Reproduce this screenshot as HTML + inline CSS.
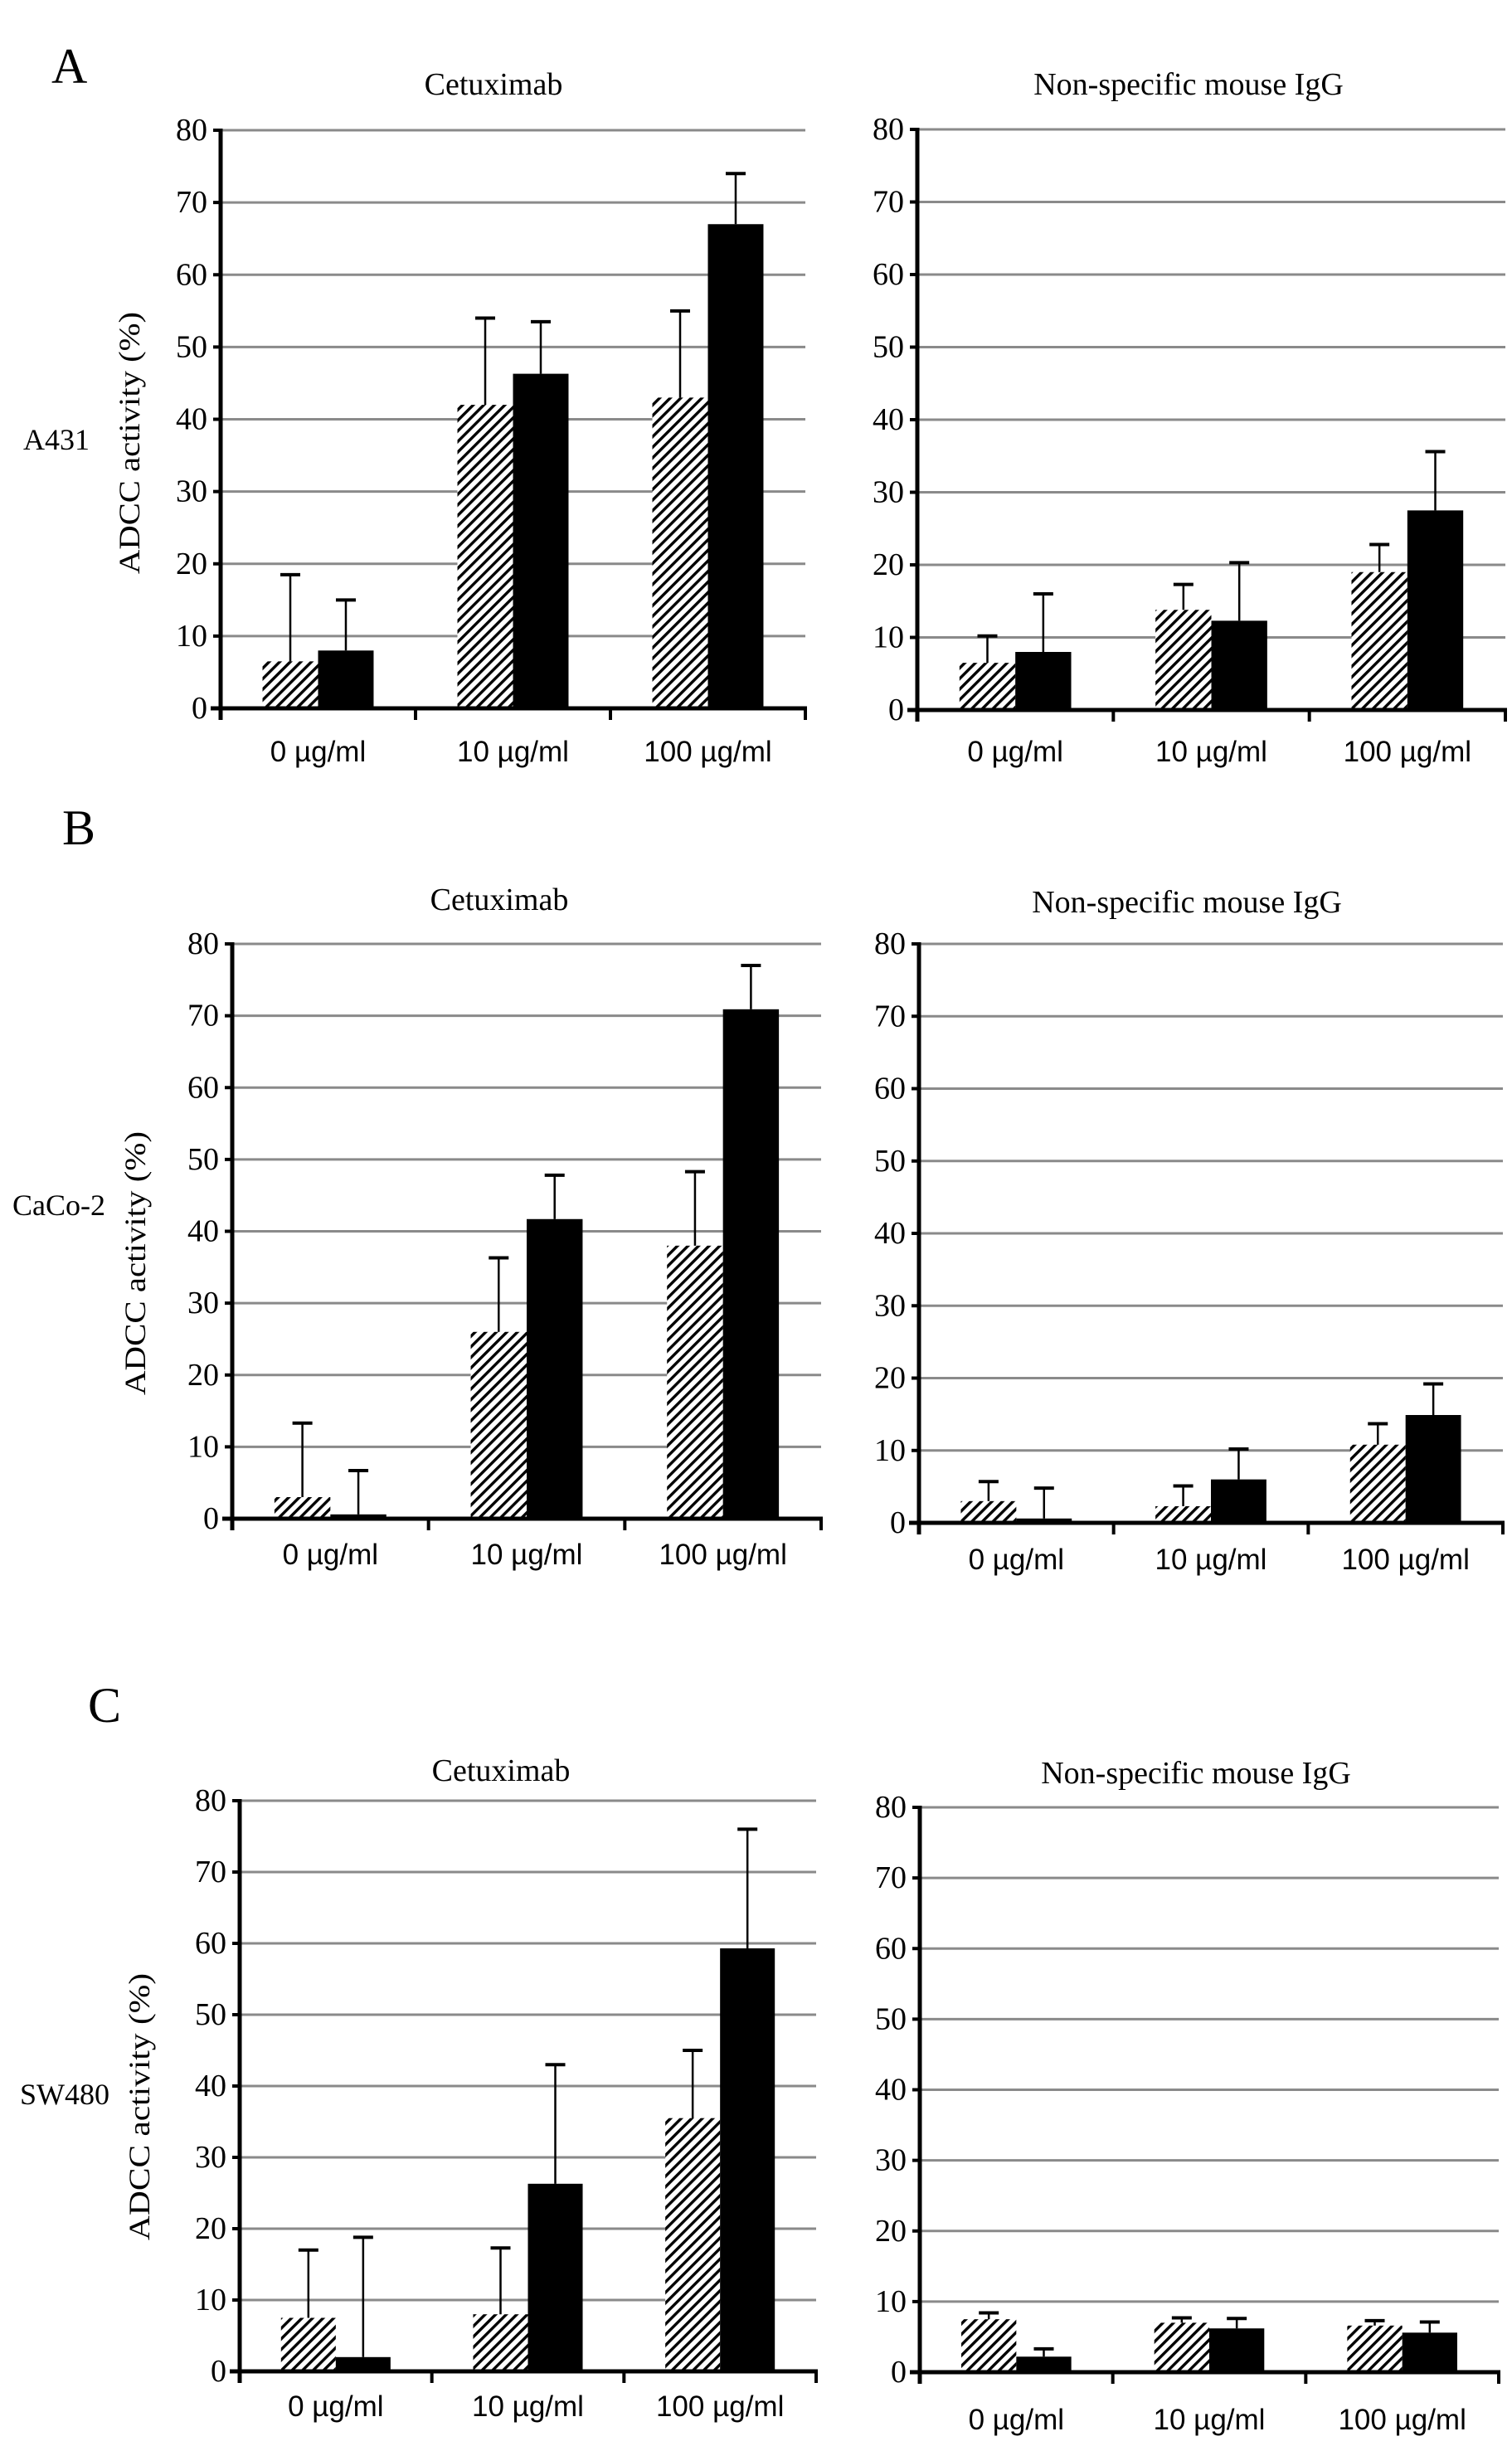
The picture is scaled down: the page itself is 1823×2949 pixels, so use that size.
<!DOCTYPE html>
<html><head><meta charset="utf-8"><style>
html,body{margin:0;padding:0;background:#fff}
svg{display:block}
.serif{font-family:"Liberation Serif",serif}
.sans{font-family:"Liberation Sans",sans-serif}
</style></head><body>
<svg id="fig" width="1823" height="2949" viewBox="0 0 1823 2949" xmlns="http://www.w3.org/2000/svg">
<defs>
<pattern id="hatch" patternUnits="userSpaceOnUse" width="9" height="9" patternTransform="rotate(45)">
<rect width="9" height="9" fill="#fff"/><rect x="0" y="0" width="3.4" height="9" fill="#000"/>
</pattern>
</defs>
<text class="serif" x="62" y="100" font-size="60">A</text>
<text class="serif" x="75" y="1018" font-size="60">B</text>
<text class="serif" x="106" y="2076" font-size="60">C</text>
<text class="serif" x="28" y="542" font-size="36">A431</text>
<text class="serif" x="15" y="1465" font-size="36">CaCo-2</text>
<text class="serif" x="24" y="2537" font-size="36">SW480</text>
<g id="charts"></g>
</svg>
<script>
const categories = ["0 µg/ml", "10 µg/ml", "100 µg/ml"];
const yTicks = [0, 10, 20, 30, 40, 50, 60, 70, 80];
const aCetHatch = [6.5, 42, 43];
const aCetHatchErr = [18.5, 54, 55];
const aCetBlack = [8, 46.3, 67];
const aCetBlackErr = [15, 53.5, 74];
const aIgHatch = [6.5, 13.8, 19];
const aIgHatchErr = [10.2, 17.3, 22.8];
const aIgBlack = [8, 12.3, 27.5];
const aIgBlackErr = [16, 20.3, 35.6];
const bCetHatch = [3, 26, 38];
const bCetHatchErr = [13.3, 36.3, 48.3];
const bCetBlack = [0.6, 41.7, 70.9];
const bCetBlackErr = [6.7, 47.8, 77];
const bIgHatch = [3, 2.3, 10.8];
const bIgHatchErr = [5.7, 5.1, 13.7];
const bIgBlack = [0.6, 6, 14.9];
const bIgBlackErr = [4.8, 10.2, 19.2];
const cCetHatch = [7.5, 8, 35.5];
const cCetHatchErr = [17, 17.3, 45];
const cCetBlack = [2, 26.3, 59.3];
const cCetBlackErr = [18.8, 43, 76];
const cIgHatch = [7.5, 7, 6.6];
const cIgHatchErr = [8.4, 7.7, 7.3];
const cIgBlack = [2.2, 6.2, 5.6];
const cIgBlackErr = [3.3, 7.6, 7.1];

const NS = "http://www.w3.org/2000/svg";
const root = document.getElementById("charts");
function mk(tag, attrs, parent) {
  const e = document.createElementNS(NS, tag);
  for (const k in attrs) e.setAttribute(k, attrs[k]);
  parent.appendChild(e);
  return e;
}
function chart(id, title, x0, x1, y0, y80, titleX, titleY, labelY, yTitle, hatch, hatchErr, black, blackErr) {
  const g = mk("g", {}, root);
  
  
  const ys = v => y0 - (y0 - y80) * v / 80;
  const cw = (x1 - x0) / categories.length;
  const t = mk("text", {x: titleX, y: titleY, "font-size": 38, "text-anchor": "middle", class: "serif"}, g);
  t.textContent = title;
  
  
  yTicks.forEach(v => {
    const y = ys(v);
    if (v > 0) {
      const gl = mk("line", {x1: x0, x2: x1, y1: y, y2: y, stroke: "#8a8a8a", "stroke-width": 3}, g);
      
      
    }
    mk("line", {x1: x0 - 9, x2: x0, y1: y, y2: y, stroke: "#000", "stroke-width": 4}, g);
    const tl = mk("text", {x: x0 - 16, y: y + 12, "font-size": 38, "text-anchor": "end", class: "serif"}, g);
    tl.textContent = v;
    
    
  });
  const bw = cw * 0.285;
  categories.forEach((c, i) => {
    const cx = x0 + cw * (i + 0.5);
    const xh = cx - bw, xb = cx;
    const hb = mk("rect", {x: xh, y: ys(hatch[i]), width: bw, height: y0 - ys(hatch[i]), fill: "url(#hatch)"}, g);
    
    
    const bb = mk("rect", {x: xb, y: ys(black[i]), width: bw, height: y0 - ys(black[i]), fill: "#000"}, g);
    
    
    [[xh + bw / 2, hatch[i], hatchErr[i]], [xb + bw / 2, black[i], blackErr[i]]].forEach(([ex, v, e]) => {
      const el = mk("line", {x1: ex, x2: ex, y1: ys(v), y2: ys(e), stroke: "#000", "stroke-width": 2.5}, g);
      
      
      mk("line", {x1: ex - 12, x2: ex + 12, y1: ys(e), y2: ys(e), stroke: "#000", "stroke-width": 4}, g);
    });
    const lb = mk("text", {x: cx, y: labelY, "font-size": 35, "text-anchor": "middle", class: "sans"}, g);
    lb.textContent = c;
    
    
  });
  for (let i = 0; i <= categories.length; i++) {
    const x = x0 + cw * i;
    mk("line", {x1: x, x2: x, y1: y0, y2: y0 + 14, stroke: "#000", "stroke-width": 4}, g);
  }
  const ya = mk("line", {x1: x0, x2: x0, y1: y80 - 2, y2: y0 + 14, stroke: "#000", "stroke-width": 5}, g);
  
  
  const xa = mk("line", {x1: x0 - 12, x2: x1 + 2, y1: y0, y2: y0, stroke: "#000", "stroke-width": 5}, g);
  
  
  if (yTitle) {
    const [tx, ty, tlen] = yTitle;
    const yt = mk("text", {x: 0, y: 0, "font-size": 36, "text-anchor": "middle", class: "serif",
      transform: "translate(" + tx + "," + ty + ") rotate(-90)", textLength: tlen, lengthAdjust: "spacingAndGlyphs"}, g);
    yt.textContent = "ADCC activity (%)";
    
    
  }
}
chart("chart-a-cetuximab", "Cetuximab", 266, 971, 854, 157, 595, 114, 918, [168, 534, 316], aCetHatch, aCetHatchErr, aCetBlack, aCetBlackErr);
chart("chart-a-igg", "Non-specific mouse IgG", 1106, 1815, 856, 156, 1433, 114, 918, null, aIgHatch, aIgHatchErr, aIgBlack, aIgBlackErr);
chart("chart-b-cetuximab", "Cetuximab", 280, 990, 1831, 1138, 602, 1097, 1886, [175, 1523, 318], bCetHatch, bCetHatchErr, bCetBlack, bCetBlackErr);
chart("chart-b-igg", "Non-specific mouse IgG", 1108, 1812, 1836, 1138, 1431, 1100, 1892, null, bIgHatch, bIgHatchErr, bIgBlack, bIgBlackErr);
chart("chart-c-cetuximab", "Cetuximab", 289, 984, 2859, 2171, 604, 2147, 2913, [180, 2540, 322], cCetHatch, cCetHatchErr, cCetBlack, cCetBlackErr);
chart("chart-c-igg", "Non-specific mouse IgG", 1109, 1807, 2860, 2179, 1442, 2150, 2929, null, cIgHatch, cIgHatchErr, cIgBlack, cIgBlackErr);
</script>
</body></html>
